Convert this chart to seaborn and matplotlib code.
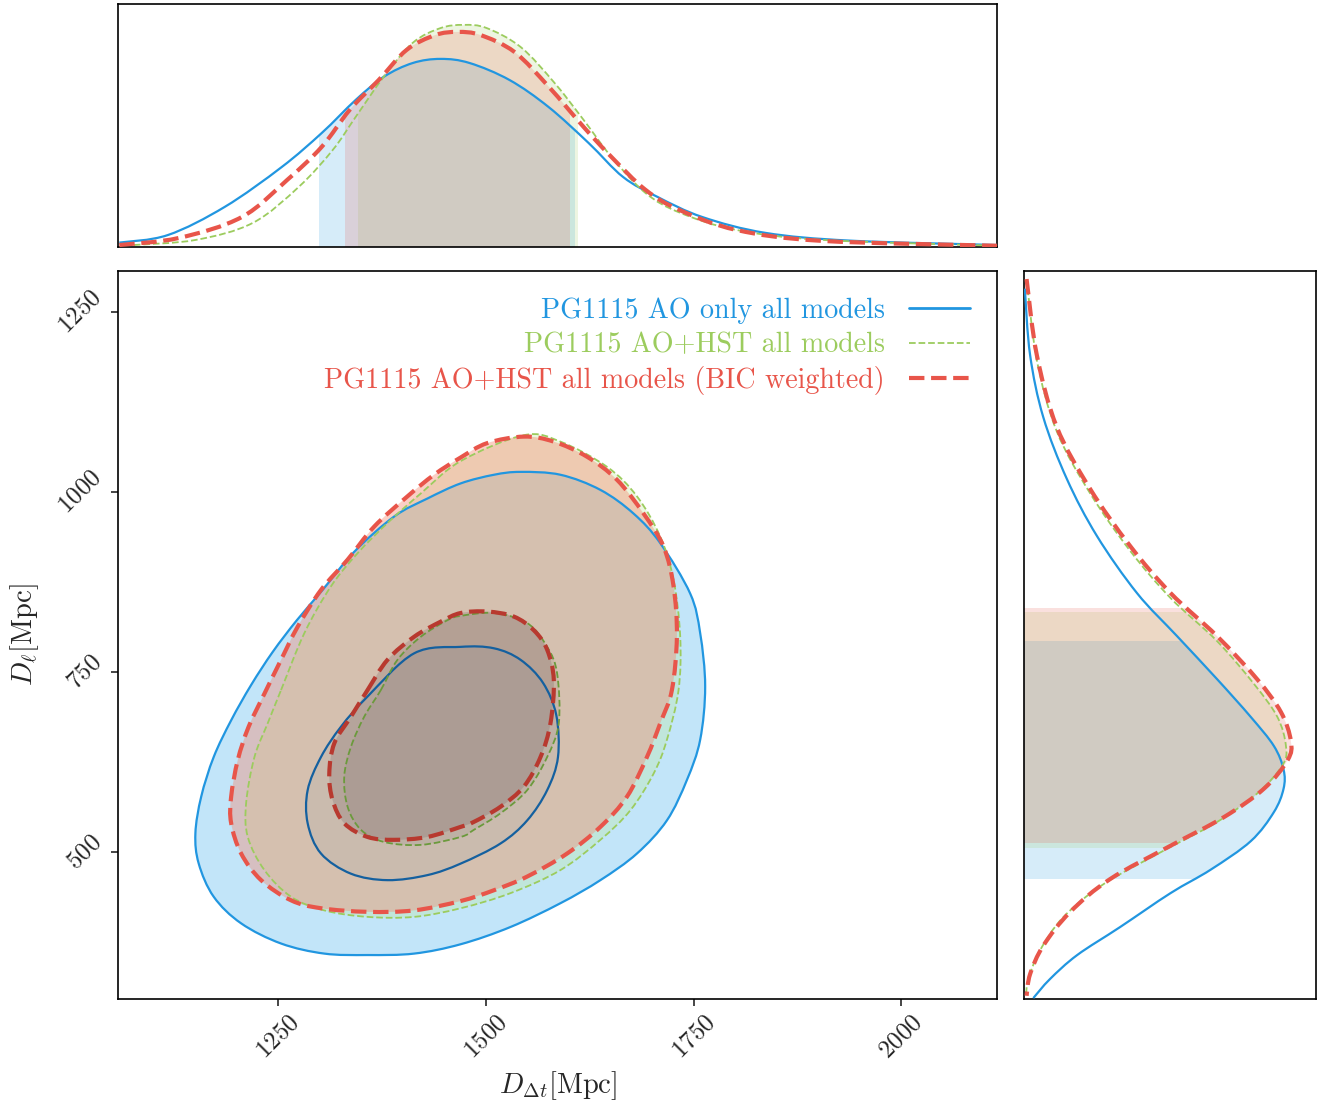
import numpy as np
import matplotlib
matplotlib.use("Agg")
import matplotlib.pyplot as plt
from matplotlib.path import Path
from matplotlib.patches import PathPatch, Rectangle
from matplotlib.lines import Line2D
import seaborn as sns

# ---------------- data ----------------
labels = ["PG1115 AO only all models",
          "PG1115 AO+HST all models",
          "PG1115 AO+HST all models (BIC weighted)"]

# 95% contours (D_dt, D_l)
ao_95_x = [1151, 1158, 1173, 1194, 1218, 1244, 1273, 1304, 1342, 1390, 1430, 1470, 1510, 1542, 1590, 1638,
           1678, 1710, 1746, 1758, 1764, 1758, 1742, 1718, 1682, 1638, 1590, 1530, 1470, 1414, 1358, 1306,
           1254, 1206, 1173, 1155]
ao_95_y = [526, 577, 632, 683, 732, 778, 822, 864, 917, 966, 991, 1012, 1024, 1028, 1024, 1003,
           970, 929, 859, 804, 730, 656, 600, 544, 498, 461, 429, 396, 372, 359, 357, 359,
           373, 401, 438, 484]
hst_95_x = [1254, 1282, 1314, 1346, 1382, 1422, 1470, 1546, 1590, 1646, 1682, 1710, 1726, 1734, 1732, 1718,
            1702, 1674, 1638, 1590, 1530, 1470, 1414, 1358, 1306, 1266, 1234, 1214, 1212, 1222, 1238]
hst_95_y = [725, 804, 869, 915, 957, 998, 1043, 1079, 1070, 1035, 994, 938, 878, 799, 725, 656,
            609, 558, 517, 475, 443, 422, 410, 410, 419, 438, 475, 521, 568, 632, 679]
bic_95_x = [1194, 1194, 1202, 1215, 1234, 1254, 1274, 1302, 1334, 1366, 1406, 1438, 1470, 1502, 1546, 1582,
            1622, 1658, 1690, 1714, 1726, 1730, 1724, 1710, 1694, 1670, 1638, 1598, 1550, 1510, 1470, 1414,
            1358, 1302, 1266, 1230, 1206]
bic_95_y = [540, 577, 628, 674, 720, 767, 813, 864, 906, 952, 994, 1024, 1048, 1068, 1077, 1070,
            1049, 1017, 970, 924, 869, 799, 725, 679, 632, 577, 535, 498, 466, 447, 432, 419,
            417, 422, 433, 461, 498]

# 68% contours
ao_68_x = [1470, 1510, 1542, 1569, 1585, 1587, 1574, 1550, 1518, 1470, 1430, 1382, 1338, 1302, 1286,
           1286, 1302, 1326, 1358, 1414]
ao_68_y = [785, 783, 767, 735, 690, 632, 586, 544, 512, 484, 468, 461, 470, 498, 540,
           586, 632, 674, 716, 776]
hst_68_x = [1374, 1394, 1422, 1454, 1470, 1510, 1550, 1574, 1586, 1588, 1574, 1550, 1518, 1486, 1470,
            1422, 1378, 1350, 1334, 1330, 1338, 1354]
hst_68_y = [725, 767, 799, 822, 828, 832, 818, 785, 748, 679, 632, 586, 554, 531, 521,
            510, 514, 531, 563, 605, 646, 688]
bic_68_x = [1358, 1382, 1414, 1446, 1470, 1502, 1534, 1558, 1574, 1582, 1578, 1566, 1546, 1518, 1486,
            1470, 1430, 1390, 1358, 1330, 1316, 1312, 1318, 1338]
bic_68_y = [725, 767, 799, 820, 832, 834, 827, 808, 781, 739, 679, 632, 591, 563, 542,
            535, 521, 517, 521, 540, 572, 609, 651, 688]

# marginal of D_dt (relative density)
ao_ddt_x = [1059.5, 1117.8, 1186.3, 1254.8, 1302.9, 1343.7, 1377.4, 1412.3, 1445.9, 1480.8, 1528.8, 1575.7,
            1623.8, 1665.3, 1706.7, 1760.8, 1836.5, 1938.7, 2115.4]
ao_ddt_p = [0.018, 0.049, 0.165, 0.329, 0.469, 0.605, 0.700, 0.757, 0.774, 0.757, 0.687, 0.576,
            0.428, 0.288, 0.206, 0.123, 0.058, 0.026, 0.008]
hst_ddt_x = [1076.9, 1151.4, 1220.0, 1275.2, 1316.1, 1343.7, 1377.4, 1412.3, 1445.9, 1473.6, 1501.2, 1542.1,
             1582.9, 1617.8, 1651.4, 1692.3, 1734.4, 1801.7, 1905.0, 2115.4]
hst_ddt_p = [0.008, 0.029, 0.099, 0.247, 0.399, 0.535, 0.700, 0.840, 0.901, 0.914, 0.901, 0.823,
             0.675, 0.523, 0.370, 0.222, 0.140, 0.070, 0.029, 0.005]
bic_ddt_x = [1059.5, 1131.0, 1206.7, 1261.4, 1302.9, 1336.5, 1371.4, 1405.0, 1439.4, 1466.3, 1494.0, 1534.9,
             1576.3, 1617.8, 1651.4, 1692.3, 1733.2, 1801.7, 1905.0, 2115.4]
bic_ddt_p = [0.008, 0.037, 0.123, 0.276, 0.412, 0.564, 0.687, 0.811, 0.872, 0.885, 0.872, 0.802,
             0.658, 0.494, 0.370, 0.235, 0.152, 0.070, 0.025, 0.005]

# marginal of D_l (relative density)
ao_dl_y = [1282.5, 1190.3, 1104.2, 1018.1, 938.9, 859.7, 800.0, 740.3, 687.5, 647.2, 614.6, 588.1,
           555.6, 515.3, 475.7, 443.0, 395.8, 356.9, 323.6, 297.2]
ao_dl_p = [0.003, 0.021, 0.066, 0.147, 0.250, 0.387, 0.524, 0.661, 0.777, 0.856, 0.889, 0.889,
           0.856, 0.777, 0.640, 0.502, 0.329, 0.182, 0.089, 0.032]
hst_dl_y = [1295.8, 1183.3, 1084.7, 998.6, 918.7, 852.8, 793.1, 733.3, 687.5, 647.6, 621.1, 581.9,
            541.7, 502.1, 455.6, 409.7, 363.5, 323.6, 300.4]
hst_dl_p = [0.009, 0.044, 0.112, 0.226, 0.363, 0.502, 0.661, 0.788, 0.868, 0.897, 0.886, 0.800,
            0.661, 0.479, 0.273, 0.135, 0.055, 0.015, 0.007]
bic_dl_y = [1295.8, 1190.3, 1090.7, 1004.7, 925.4, 859.7, 800.0, 740.3, 694.4, 654.2, 627.8, 588.1,
            548.6, 508.8, 462.5, 416.7, 369.9, 330.5, 300.4]
bic_dl_p = [0.009, 0.044, 0.112, 0.226, 0.363, 0.502, 0.661, 0.798, 0.880, 0.914, 0.903, 0.822,
            0.685, 0.502, 0.295, 0.158, 0.066, 0.021, 0.009]

# 68% credible bands
ddt_bands = [(1300, 1607), (1346, 1611), (1331, 1602)]
dl_bands = [(462.5, 793.1), (505.6, 833.3), (512.5, 839.4)]

x_ticks = [1250, 1500, 1750, 2000]
y_ticks = [500, 750, 1000, 1250]
x_lim = (1058, 2115)
y_lim = (296, 1307)

# ---------------- style ----------------
sns.set_theme(style="ticks")
plt.rcParams["font.family"] = ["cmr10", "DejaVu Serif"]
plt.rcParams["mathtext.fontset"] = "cm"
plt.rcParams["axes.formatter.use_mathtext"] = True
plt.rcParams["axes.linewidth"] = 1.2
plt.rcParams["axes.edgecolor"] = "black"

BLUE = "#2196e0"
GREEN = "#9ccc5e"
RED = "#e8554a"
BLUE_D = "#14609f"
GREEN_D = "#6b9a3c"
RED_D = "#b8392f"

fig = plt.figure(figsize=(13.25, 11.07), dpi=100)
ax = fig.add_axes([0.0891, 0.0976, 0.6634, 0.6576])
axt = fig.add_axes([0.0891, 0.7769, 0.6634, 0.2195])
axr = fig.add_axes([0.7728, 0.0976, 0.2204, 0.6576])


def smooth_path(xs, ys, closed=True):
    P = np.column_stack([xs, ys]).astype(float)
    n = len(P)
    verts = [P[0]]
    codes = [Path.MOVETO]
    if closed:
        idx = range(n)
        get = lambda k: P[k % n]
    else:
        idx = range(n - 1)
        get = lambda k: P[min(max(k, 0), n - 1)]
    for i in idx:
        p0, p1, p2, p3 = get(i - 1), get(i), get(i + 1), get(i + 2)
        verts += [p1 + (p2 - p0) / 6.0, p2 - (p3 - p1) / 6.0, p2]
        codes += [Path.CURVE4] * 3
    if closed:
        verts.append(P[0])
        codes.append(Path.CLOSEPOLY)
    return Path(np.array(verts), codes)


contours = [
    (ao_95_x, ao_95_y, ao_68_x, ao_68_y, BLUE, BLUE_D, "-", 1.6),
    (hst_95_x, hst_95_y, hst_68_x, hst_68_y, GREEN, GREEN_D, "--", 1.3),
    (bic_95_x, bic_95_y, bic_68_x, bic_68_y, RED, RED_D, "--", 3.0),
]
outer_fill = [("#37acee", 0.30), ("#beeb96", 0.30), ("#f5876e", 0.40)]
inner_fill = [("#1f6fae", 0.06), ("#6e6e64", 0.12), ("#6e555a", 0.22)]

for (ox, oy, ix, iy, c, cd, ls, lw), (fc, fa) in zip(contours, outer_fill):
    ax.add_patch(PathPatch(smooth_path(ox, oy), facecolor=fc, alpha=fa, edgecolor="none", zorder=1))
for (ox, oy, ix, iy, c, cd, ls, lw), (fc, fa) in zip(contours, inner_fill):
    ax.add_patch(PathPatch(smooth_path(ix, iy), facecolor=fc, alpha=fa, edgecolor="none", zorder=2))
for (ox, oy, ix, iy, c, cd, ls, lw) in contours:
    ax.add_patch(PathPatch(smooth_path(ox, oy), fill=False, edgecolor=c, linestyle=ls, lw=lw, zorder=3))
    ax.add_patch(PathPatch(smooth_path(ix, iy), fill=False, edgecolor=cd, linestyle=ls, lw=lw, zorder=3))

ax.set_xlim(*x_lim)
ax.set_ylim(*y_lim)
ax.set_xticks(x_ticks)
ax.set_yticks(y_ticks)
ax.tick_params(direction="out", length=5, width=1.2, labelsize=18, bottom=True, left=True)
for lab in ax.get_xticklabels():
    lab.set_rotation(45)
    lab.set_ha("center")
for lab in ax.get_yticklabels():
    lab.set_rotation(45)
    lab.set_va("center")
ax.set_xlabel(r"$D_{\Delta t}$[Mpc]", fontsize=20.5, labelpad=5)
ax.set_ylabel(r"$D_{\ell}$[Mpc]", fontsize=20.5, labelpad=10)

handles = [Line2D([], [], color=BLUE, lw=2.0),
           Line2D([], [], color=GREEN, lw=1.3, ls="--"),
           Line2D([], [], color=RED, lw=3.0, ls="--")]
leg = ax.legend(handles, labels, loc="upper right", frameon=False, markerfirst=False,
                fontsize=20.2, labelspacing=0.28, handlelength=2.2, handletextpad=0.85,
                borderaxespad=0.55)
for t, c in zip(leg.get_texts(), [BLUE, GREEN, RED]):
    t.set_color(c)

# ---------------- top marginal ----------------
marg_top = [(ao_ddt_x, ao_ddt_p, BLUE, "-", 1.6),
            (hst_ddt_x, hst_ddt_p, GREEN, "--", 1.3),
            (bic_ddt_x, bic_ddt_p, RED, "--", 3.0)]
for (xs, ps, c, ls, lw), (lo, hi) in zip(marg_top, ddt_bands):
    path = smooth_path(list(xs) + [xs[-1], xs[0]], list(ps) + [0, 0], closed=False)
    patch = PathPatch(path, facecolor=c, alpha=0.18, edgecolor="none", zorder=1)
    axt.add_patch(patch)
    patch.set_clip_path(Rectangle((lo, 0), hi - lo, 2, transform=axt.transData))
for xs, ps, c, ls, lw in marg_top:
    axt.add_patch(PathPatch(smooth_path(xs, ps, closed=False), fill=False, edgecolor=c,
                            linestyle=ls, lw=lw, zorder=3))
axt.set_xlim(*x_lim)
axt.set_ylim(0, 1)
axt.set_xticks([])
axt.set_yticks([])

# ---------------- right marginal ----------------
marg_r = [(ao_dl_y, ao_dl_p, BLUE, "-", 1.6),
          (hst_dl_y, hst_dl_p, GREEN, "--", 1.3),
          (bic_dl_y, bic_dl_p, RED, "--", 3.0)]
for (ys, ps, c, ls, lw), (lo, hi) in zip(marg_r, dl_bands):
    path = smooth_path(list(ps) + [0, 0], list(ys) + [ys[-1], ys[0]], closed=False)
    patch = PathPatch(path, facecolor=c, alpha=0.18, edgecolor="none", zorder=1)
    axr.add_patch(patch)
    patch.set_clip_path(Rectangle((0, lo), 2, hi - lo, transform=axr.transData))
for ys, ps, c, ls, lw in marg_r:
    axr.add_patch(PathPatch(smooth_path(ps, ys, closed=False), fill=False, edgecolor=c,
                            linestyle=ls, lw=lw, zorder=3))
axr.set_ylim(*y_lim)
axr.set_xlim(0, 1)
axr.set_xticks([])
axr.set_yticks([])

sns.despine(ax=ax, top=False, right=False)
fig.savefig("out.png", dpi=100)
